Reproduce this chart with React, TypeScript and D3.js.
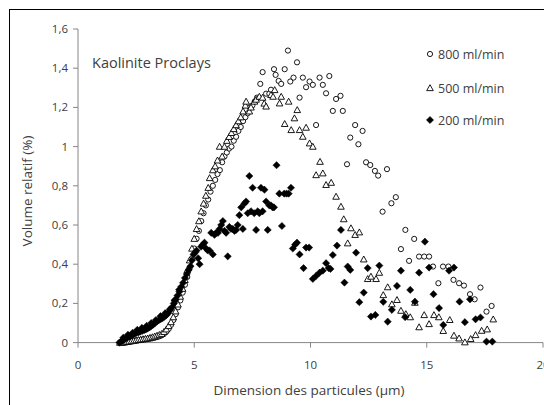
import React from "react";
import * as d3 from "d3";

// 800 ml/min (open circles)
const s800x = [1.8,1.9,2.0,2.1,2.2,2.3,2.4,2.5,2.6,2.7,2.8,2.9,3.0,3.1,3.2,3.3,3.4,3.5,3.6,3.7,3.8,3.9,4.0,4.1,4.2,4.3,4.4,4.5,4.6,4.7,4.8,4.9,5.0,5.1,5.2,5.3,5.4,5.5,5.6,5.7,5.8,5.9,6.0,6.1,6.2,6.3,6.4,6.5,6.6,6.7,6.8,6.9,7.0,7.1,7.2,7.3,7.4,7.5,7.6,7.7,7.84,7.94,8.09,8.23,8.3,8.43,8.5,8.63,8.74,8.89,9.03,9.13,9.27,9.42,9.53,9.67,9.81,9.96,10.1,10.24,10.39,10.53,10.67,10.81,10.96,11.1,11.29,11.39,11.57,11.71,11.92,12.06,12.24,12.39,12.57,12.77,12.91,13.1,13.29,13.48,13.67,13.89,14.08,14.24,14.46,14.67,14.89,15.1,15.27,15.5,15.7,15.93,16.15,16.39,16.6,16.86,17.06,17.31,17.57,17.79];
const s800y = [0,0,0,0.002,0.004,0.006,0.008,0.01,0.012,0.013,0.015,0.016,0.018,0.02,0.022,0.025,0.028,0.032,0.037,0.045,0.056,0.07,0.09,0.115,0.145,0.18,0.215,0.255,0.295,0.335,0.38,0.43,0.48,0.53,0.57,0.62,0.66,0.7,0.73,0.77,0.8,0.83,0.86,0.88,0.92,0.95,0.97,0.99,1.0,1.03,1.05,1.08,1.1,1.13,1.15,1.17,1.2,1.21,1.23,1.25,1.32,1.38,1.27,1.27,1.29,1.395,1.366,1.335,1.32,1.395,1.49,1.332,1.352,1.43,1.25,1.352,1.303,1.332,1.315,1.11,1.352,1.315,1.272,1.36,1.182,1.243,1.259,1.182,0.91,1.046,1.11,1.012,1.08,0.92,0.906,0.876,0.852,0.668,0.885,0.711,0.742,0.477,0.575,0.417,0.529,0.439,0.439,0.439,0.388,0.303,0.388,0.388,0.32,0.303,0.291,0.247,0.221,0.281,0.158,0.187];

// 500 ml/min (open triangles)
const s500x = [1.8,1.9,2.0,2.1,2.2,2.3,2.4,2.5,2.6,2.7,2.8,2.9,3.0,3.1,3.2,3.3,3.4,3.5,3.6,3.7,3.8,3.9,4.0,4.1,4.2,4.3,4.4,4.5,4.6,4.7,4.8,4.9,5.0,5.1,5.2,5.3,5.4,5.5,5.6,5.66,5.8,5.9,6.0,6.09,6.2,6.3,6.4,6.5,6.6,6.7,6.8,6.9,7.0,7.1,7.2,7.23,7.37,7.44,7.59,7.66,7.8,7.94,8.01,8.09,8.3,8.46,8.39,8.67,8.74,8.89,9.06,9.17,9.31,9.43,9.53,9.67,9.81,9.96,10.1,10.24,10.41,10.53,10.67,10.89,11.1,11.31,11.43,11.6,11.74,11.92,12.1,12.29,12.46,12.6,12.82,12.96,13.13,13.32,13.5,13.72,13.89,14.1,14.29,14.49,14.67,14.89,15.1,15.31,15.52,15.71,15.99,16.17,16.39,16.64,16.89,17.1,17.36,17.6,17.86];
const s500y = [0,0,0.002,0.004,0.006,0.008,0.01,0.012,0.014,0.016,0.018,0.02,0.022,0.025,0.028,0.032,0.036,0.04,0.045,0.055,0.068,0.085,0.105,0.13,0.16,0.195,0.235,0.275,0.32,0.37,0.42,0.48,0.53,0.58,0.62,0.67,0.71,0.75,0.79,0.84,0.88,0.9,0.93,1.0,0.95,1.0,1.03,1.05,1.07,1.09,1.11,1.13,1.15,1.18,1.21,1.23,1.18,1.2,1.23,1.24,1.255,1.25,1.22,1.205,1.264,1.289,1.255,1.221,1.255,1.116,1.23,1.085,1.145,1.187,1.085,1.051,1.097,1.017,1.0,0.855,0.923,0.864,0.805,0.816,0.745,0.694,0.63,0.507,0.584,0.55,0.563,0.425,0.325,0.337,0.325,0.357,0.243,0.283,0.196,0.218,0.163,0.146,0.13,0.204,0.079,0.141,0.095,0.141,0.13,0.06,0.116,0.036,0.022,0.002,0.019,0.039,0.061,0.068,0.119];

// 200 ml/min (filled diamonds)
const s200x = [1.78,1.85,1.92,1.98,2.05,2.12,2.2,2.28,2.36,2.44,2.52,2.6,2.68,2.76,2.84,2.92,3.0,3.08,3.16,3.24,3.32,3.4,3.48,3.56,3.64,3.72,3.8,3.88,3.96,4.04,4.12,4.2,4.28,4.36,4.44,4.52,4.6,4.68,4.76,4.84,4.9,4.97,5.04,5.1,5.17,5.23,5.3,5.37,5.44,5.51,5.58,5.66,5.73,5.8,5.87,5.94,6.02,6.09,6.16,6.23,6.3,6.37,6.44,6.51,6.58,6.66,6.73,6.8,6.87,6.94,7.02,7.09,7.16,7.23,7.3,7.37,7.44,7.51,7.58,7.66,7.73,7.8,7.87,7.94,8.02,8.09,8.16,8.23,8.3,8.37,8.43,8.54,8.66,8.77,8.87,8.97,9.06,9.16,9.24,9.34,9.42,9.53,9.7,9.81,9.94,10.1,10.24,10.39,10.53,10.67,10.78,10.86,10.96,11.14,11.31,11.46,11.6,11.71,11.96,12.1,12.29,12.46,12.6,12.79,12.96,13.13,13.32,13.5,13.72,13.89,14.07,14.29,14.49,14.67,14.92,15.1,15.29,15.53,15.71,15.96,16.17,16.41,16.64,16.86,17.1,17.31,17.57,17.82,
  1.95,2.15,2.35,2.55,2.75,2.95,3.15,3.35,3.55,3.75,3.95,4.15,4.35];
const s200y = [0,0.005,0.01,0.015,0.02,0.025,0.03,0.035,0.04,0.045,0.05,0.052,0.056,0.06,0.063,0.067,0.072,0.078,0.085,0.092,0.1,0.108,0.115,0.12,0.125,0.132,0.14,0.15,0.165,0.18,0.2,0.22,0.24,0.26,0.285,0.305,0.33,0.35,0.37,0.39,0.42,0.45,0.46,0.47,0.43,0.4,0.49,0.5,0.51,0.48,0.47,0.47,0.56,0.45,0.55,0.56,0.56,0.58,0.6,0.62,0.57,0.56,0.44,0.59,0.58,0.58,0.57,0.575,0.6,0.65,0.69,0.58,0.71,0.72,0.66,0.85,0.67,0.79,0.66,0.575,0.67,0.66,0.79,0.67,0.78,0.72,0.575,0.7,0.7,0.69,0.69,0.905,0.76,0.595,0.76,0.76,0.76,0.79,0.48,0.5,0.51,0.45,0.38,0.485,0.485,0.325,0.34,0.357,0.367,0.405,0.38,0.376,0.447,0.495,0.575,0.306,0.388,0.371,0.459,0.206,0.255,0.38,0.133,0.141,0.393,0.208,0.107,0.167,0.289,0.367,0.13,0.269,0.209,0.357,0.515,0.383,0.247,0.176,0.09,0.367,0.383,0.209,0.104,0.221,0.119,0.128,0.005,0.005,
  0.025,0.04,0.05,0.065,0.075,0.085,0.1,0.115,0.135,0.15,0.17,0.215,0.27];

const xTicks = [0, 5, 10, 15, 20];
const yTicks = [0, 0.2, 0.4, 0.6, 0.8, 1, 1.2, 1.4, 1.6];
const legendLabels = ["800 ml/min", "500 ml/min", "200 ml/min"];
const chartTitle = "Kaolinite Proclays";
const xTitle = "Dimension des particules (µm)";
const yTitle = "Volume relatif (%)";

const W = 544, H = 405;
const FONT = "'Open Sans', sans-serif";
const AXIS = "#868686";
const TXT = "#404040";

const x = d3.scaleLinear().domain([0, 20]).range([78, 543]);
const y = d3.scaleLinear().domain([0, 1.6]).range([342.6, 29]);

const fmt = (v: number) => String(v).replace(".", ",");

function Circle({ cx, cy }: { cx: number; cy: number }) {
  return <circle cx={cx} cy={cy} r={2.6} fill="#fff" stroke="#000" strokeWidth={0.9} />;
}
function Tri({ cx, cy }: { cx: number; cy: number }) {
  const s = 3.3;
  const p = `M${cx},${cy - s}L${cx + s},${cy + s * 0.8}L${cx - s},${cy + s * 0.8}Z`;
  return <path d={p} fill="#fff" stroke="#000" strokeWidth={0.9} />;
}
function Dia({ cx, cy }: { cx: number; cy: number }) {
  const s = 3.6;
  const p = `M${cx},${cy - s}L${cx + s},${cy}L${cx},${cy + s}L${cx - s},${cy}Z`;
  return <path d={p} fill="#000" stroke="#000" strokeWidth={0.5} />;
}

export default function App() {
  return (
    <svg width={W} height={H} style={{ position: "absolute", left: 0, top: 0, background: "#fff" }} fontFamily={FONT}>
      <rect x={0} y={0} width={W} height={H} fill="#fff" />
      <rect x={9.5} y={9.5} width={600} height={500} fill="none" stroke="#000" strokeWidth={1} />
      {/* y axis */}
      <line x1={x(0)} x2={x(0)} y1={y(1.6)} y2={y(0)} stroke={AXIS} />
      {yTicks.map((t) => (
        <g key={t}>
          <line x1={x(0) - 5} x2={x(0)} y1={y(t)} y2={y(t)} stroke={AXIS} />
          <text x={68} y={y(t) + 4} textAnchor="end" fontSize={11.5} fill={TXT}>{fmt(t)}</text>
        </g>
      ))}
      {/* x axis */}
      <line x1={x(0)} x2={x(20)} y1={y(0)} y2={y(0)} stroke={AXIS} />
      {xTicks.map((t) => (
        <g key={t}>
          <line x1={x(t)} x2={x(t)} y1={y(0)} y2={y(0) + 5} stroke={AXIS} />
          <text x={x(t)} y={369} textAnchor="middle" fontSize={11.5} fill={TXT}>{t}</text>
        </g>
      ))}
      <text x={309} y={395} textAnchor="middle" fontSize={13.5} fill={TXT}>{xTitle}</text>
      <text transform={`translate(32,191) rotate(-90)`} textAnchor="middle" fontSize={13.5} fill={TXT}>{yTitle}</text>
      <text x={92} y={68} fontSize={14.5} fill={TXT}>{chartTitle}</text>
      {/* series */}
      {s800x.map((v, i) => <Circle key={"c" + i} cx={x(v)} cy={y(s800y[i])} />)}
      {s500x.map((v, i) => <Tri key={"t" + i} cx={x(v)} cy={y(s500y[i])} />)}
      {s200x.map((v, i) => <Dia key={"d" + i} cx={x(v)} cy={y(s200y[i])} />)}
      {/* legend */}
      <Circle cx={430} cy={54} />
      <Tri cx={430} cy={88} />
      <Dia cx={430} cy={120} />
      {legendLabels.map((l, i) => (
        <text key={l} x={438} y={[54, 88, 120][i] + 4.5} fontSize={12.5} fill={TXT}>{l}</text>
      ))}
    </svg>
  );
}
